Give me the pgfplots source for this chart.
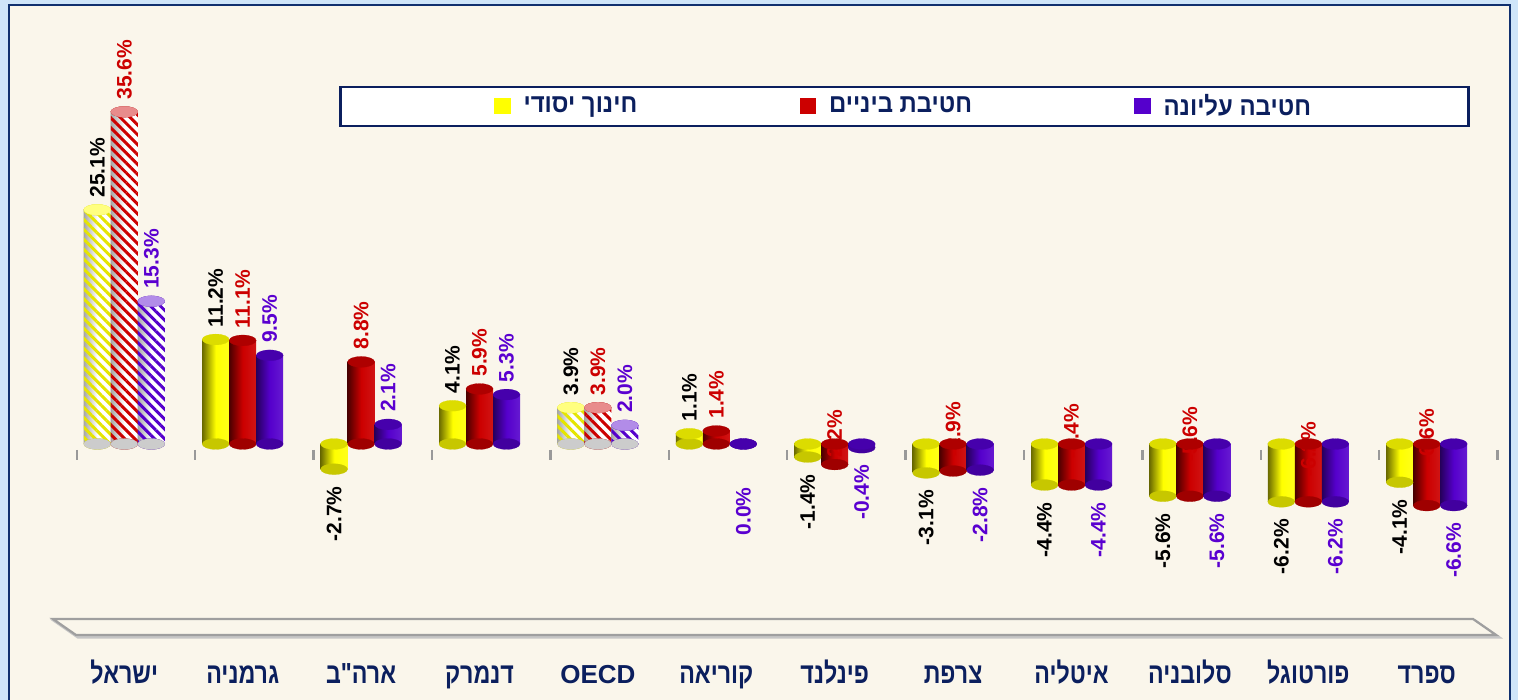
\documentclass[border=0pt]{standalone}
\usepackage{pgfplots}
\pgfplotsset{compat=1.18}
\usepackage{pgfplotstable}
\usetikzlibrary{patterns.meta}
\usepackage{fontspec}
\setmainfont{Liberation Sans}
\newfontfamily\heb[Script=Hebrew, FakeStretch=0.92]{Liberation Sans}
\newfontfamily\hebcat[Script=Hebrew, FakeStretch=0.8]{Liberation Sans}
\TeXXeTstate=1

\definecolor{cream}{HTML}{FAF6EB}
\definecolor{navy}{HTML}{0B1F5E}
\definecolor{framenavy}{HTML}{10306E}
\definecolor{lightblue}{HTML}{CFE5F9}
\definecolor{yel}{HTML}{FFFF00}
\definecolor{yelD}{HTML}{6A6A00}
\definecolor{yelT}{HTML}{DCDC00}
\definecolor{rd}{HTML}{CC0000}
\definecolor{rdD}{HTML}{4A0000}
\definecolor{rdT}{HTML}{AE0000}
\definecolor{pu}{HTML}{5500CC}
\definecolor{puD}{HTML}{26005C}
\definecolor{puT}{HTML}{4600AC}
\definecolor{lblred}{HTML}{CC0000}
\definecolor{lblpu}{HTML}{5A00D0}

% x: 0 Israel,1 Germany,2 USA,3 Denmark,4 OECD,5 Korea,6 Finland,7 France,8 Italy,9 Slovenia,10 Portugal,11 Spain
\pgfplotstableread{
x v top bot
0 25.1 25.1 0
1 11.2 11.2 0
2 -2.7 0 -2.7
3 4.1 4.1 0
4 3.9 3.9 0
5 1.1 1.1 0
6 -1.4 0 -1.4
7 -3.1 0 -3.1
8 -4.4 0 -4.4
9 -5.6 0 -5.6
10 -6.2 0 -6.2
11 -4.1 0 -4.1
}\yeldata
\pgfplotstableread{
x v top bot
0 35.6 35.6 0
1 11.1 11.1 0
2 8.8 8.8 0
3 5.9 5.9 0
4 3.9 3.9 0
5 1.4 1.4 0
6 -2.2 0 -2.2
7 -2.9 0 -2.9
8 -4.4 0 -4.4
9 -5.6 0 -5.6
10 -6.2 0 -6.2
11 -6.6 0 -6.6
}\reddata
\pgfplotstableread{
x lab txt
6 -2.25 -2.2
7 -1.39 -2.9
8 -1.61 -4.4
9 -1.93 -5.6
10 -3.54 -6.2
11 -2.14 -6.6
}\redlab
\pgfplotstableread{
x v top bot
0 15.3 15.3 0
1 9.5 9.5 0
2 2.1 2.1 0
3 5.3 5.3 0
4 2.0 2.0 0
5 0.0 0 0
6 -0.4 0 -0.4
7 -2.8 0 -2.8
8 -4.4 0 -4.4
9 -5.6 0 -5.6
10 -6.2 0 -6.2
11 -6.6 0 -6.6
}\pudata

\pgfplotsset{
  cyl/.style={ybar, bar width=13.5pt, draw=none, forget plot},
  ell/.style 2 args={only marks, mark=*, mark size=6.75pt, forget plot,
     mark options={xshift=#1, yscale=0.4, draw=#2, fill=#2, line width=0.1pt}},
}
\tikzset{
  vlab/.style={font=\bfseries\fontsize{10.5}{12}\selectfont},
  hatch/.style={pattern color=#1, pattern={Lines[angle=-45,distance=3.5pt,line width=1.5pt]}},
}

% one shaded cylinder body per category: #1 table, #2 shift, #3 left, #4 middle, #5 right
\newcommand{\cylseries}[5]{%
  \pgfplotsinvokeforeach{0,...,11}{%
    \addplot[cyl, bar shift=#2, left color=#3, right color=#5, middle color=#4, restrict x to domain=##1:##1] table[x=x,y=v]{#1};
  }%
}
% hatched cylinder body: #1 shift, #2 x, #3 value, #4 stripe colour
\newcommand{\hatchbar}[4]{%
  \addplot[cyl, bar shift=#1, left color=gray!70, right color=white, middle color=white] coordinates {(#2,#3)};
  \addplot[cyl, bar shift=#1, hatch=#4] coordinates {(#2,#3)};
}

\begin{document}
\begin{tikzpicture}
\useasboundingbox (0,0) rectangle (759pt,350pt);
\fill[lightblue] (0,0) rectangle (759pt,350pt);
\fill[cream] (4.3pt,0) rectangle (755pt,347.3pt);
\draw[framenavy, line width=1pt] (4.3pt,0) -- (4.3pt,347.3pt) -- (755pt,347.3pt) -- (755pt,0);
% floor
\draw[gray!45, line width=1.6pt] (27.5pt,39.5pt) -- (737.5pt,39.5pt) -- (749pt,31.5pt) -- (39pt,31.5pt) -- cycle;
\draw[gray!75, line width=1.1pt, fill=cream] (26.5pt,40.5pt) -- (736.5pt,40.5pt) -- (748pt,32.5pt) -- (38pt,32.5pt) -- cycle;

\begin{axis}[
  at={(32.55pt,27.7pt)}, anchor=south west, scale only axis,
  width=710.4pt, height=314.9pt,
  xmin=-0.5, xmax=11.5, ymin=-21.5, ymax=46,
  axis line style={draw=none}, ytick=\empty,
  xtick={0,...,11}, major tick length=0pt,
  xticklabels={{\hebcat\beginR ישראל\endR},{\hebcat\beginR גרמניה\endR},{\hebcat\beginR ארה"ב\endR},{\hebcat\beginR דנמרק\endR},{\fontsize{13}{15}\selectfont OECD},{\hebcat\beginR קוריאה\endR},{\hebcat\beginR פינלנד\endR},{\hebcat\beginR צרפת\endR},{\hebcat\beginR איטליה\endR},{\hebcat\beginR סלובניה\endR},{\hebcat\beginR פורטוגל\endR},{\hebcat\beginR ספרד\endR}},
  xticklabel style={font=\bfseries\fontsize{14.5}{16}\selectfont, text=navy, anchor=base, yshift=-19.2pt},
  clip=false,
  /pgf/number format/assume math mode=true,
  legend columns=3,
  legend style={at={(0.5908,0.8544)}, anchor=center, draw=navy, line width=1.25pt, fill=white,
    inner xsep=76.75pt, inner ysep=1.75pt, font=\heb\bfseries\fontsize{13}{14}\selectfont, text=navy,
    /tikz/every odd column/.append style={column sep=4.5pt},
    /tikz/every even column/.append style={column sep=0pt}},
]
\addlegendimage{legend image code/.code={\fill[yel] (0pt,-3.2pt) rectangle (7pt,3.8pt);}}
\addlegendentry{\makebox[136pt][l]{\beginR חינוך יסודי\endR}}
\addlegendimage{legend image code/.code={\fill[rd] (0pt,-3.2pt) rectangle (7pt,3.8pt);}}
\addlegendentry{\makebox[150.5pt][l]{\beginR חטיבת ביניים\endR}}
\addlegendimage{legend image code/.code={\fill[pu] (0pt,-3.2pt) rectangle (7pt,3.8pt);}}
\addlegendentry{\beginR חטיבה עליונה\endR}

% tick marks
\addplot[only marks, mark=|, mark size=2.6pt, color=gray!80, mark options={line width=1.2pt}, forget plot]
 coordinates {(-0.402,-1.18) (0.598,-1.18) (1.598,-1.18) (2.598,-1.18) (3.598,-1.18) (4.598,-1.18) (5.598,-1.18) (6.598,-1.18) (7.598,-1.18) (8.598,-1.18) (9.598,-1.18) (10.598,-1.18) (11.598,-1.18)};

% ===== yellow =====
\addplot[ell={-13.5pt}{yel!78!black}] table[x=x,y=bot]{\yeldata};
\cylseries{\yeldata}{-13.5pt}{yelD}{yel}{yel!90!white}
\addplot[ell={-13.5pt}{gray!40}] coordinates {(0,0) (4,0)};
\hatchbar{-13.5pt}{0}{25.1}{yel!90!black}
\hatchbar{-13.5pt}{4}{3.9}{yel!90!black}
\addplot[ell={-13.5pt}{yelT}] table[x=x,y=top]{\yeldata};
\addplot[ell={-13.5pt}{yel!50!white}] coordinates {(0,25.1) (4,3.9)};
\addplot[only marks, mark=none, forget plot, restrict y to domain=0.05:100, point meta=y,
  nodes near coords={\pgfmathprintnumber[fixed,fixed zerofill,precision=1]{\pgfplotspointmeta}\%},
  nodes near coords style={xshift=-13.5pt, rotate=90, anchor=west, inner xsep=6pt, inner ysep=0pt, vlab, text=black}] table[x=x,y=v]{\yeldata};
\addplot[only marks, mark=none, forget plot, restrict y to domain=-100:-0.05, point meta=y,
  nodes near coords={\pgfmathprintnumber[fixed,fixed zerofill,precision=1]{\pgfplotspointmeta}\%},
  nodes near coords style={xshift=-13.5pt, rotate=90, anchor=east, inner xsep=8.5pt, inner ysep=0pt, vlab, text=black}] table[x=x,y=v]{\yeldata};

% ===== red =====
\addplot[only marks, mark=none, forget plot, point meta=explicit symbolic,
  nodes near coords={\pgfplotspointmeta\%},
  nodes near coords style={rotate=90, anchor=west, inner sep=0pt, vlab, text=lblred}] table[x=x,y=lab,meta=txt]{\redlab};
\addplot[ell={0pt}{rd!78!black}] table[x=x,y=bot]{\reddata};
\cylseries{\reddata}{0pt}{rdD}{rd}{rd!92!white}
\addplot[ell={0pt}{gray!40}] coordinates {(0,0) (4,0)};
\hatchbar{0pt}{0}{35.6}{rd}
\hatchbar{0pt}{4}{3.9}{rd}
\addplot[ell={0pt}{rdT}] table[x=x,y=top]{\reddata};
\addplot[ell={0pt}{rd!45!white}] coordinates {(0,35.6) (4,3.9)};
\addplot[only marks, mark=none, forget plot, restrict y to domain=0.05:100, point meta=y,
  nodes near coords={\pgfmathprintnumber[fixed,fixed zerofill,precision=1]{\pgfplotspointmeta}\%},
  nodes near coords style={rotate=90, anchor=west, inner xsep=6pt, inner ysep=0pt, vlab, text=lblred}] table[x=x,y=v]{\reddata};

% ===== purple =====
\addplot[ell={13.5pt}{pu!78!black}] table[x=x,y=bot]{\pudata};
\cylseries{\pudata}{13.5pt}{puD}{pu}{pu!90!white}
\addplot[ell={13.5pt}{gray!40}] coordinates {(0,0) (4,0)};
\hatchbar{13.5pt}{0}{15.3}{pu}
\hatchbar{13.5pt}{4}{2.0}{pu}
\addplot[ell={13.5pt}{puT}] table[x=x,y=top]{\pudata};
\addplot[ell={13.5pt}{pu!45!white}] coordinates {(0,15.3) (4,2.0)};
\addplot[only marks, mark=none, forget plot, restrict y to domain=0.05:100, point meta=y,
  nodes near coords={\pgfmathprintnumber[fixed,fixed zerofill,precision=1]{\pgfplotspointmeta}\%},
  nodes near coords style={xshift=13.5pt, rotate=90, anchor=west, inner xsep=6pt, inner ysep=0pt, vlab, text=lblpu}] table[x=x,y=v]{\pudata};
\addplot[only marks, mark=none, forget plot, restrict y to domain=-100:-0.05, point meta=y,
  nodes near coords={\pgfmathprintnumber[fixed,fixed zerofill,precision=1]{\pgfplotspointmeta}\%},
  nodes near coords style={xshift=13.5pt, rotate=90, anchor=east, inner xsep=8.5pt, inner ysep=0pt, vlab, text=lblpu}] table[x=x,y=v]{\pudata};
\addplot[only marks, mark=none, forget plot, point meta=explicit symbolic,
  nodes near coords={\pgfplotspointmeta\%},
  nodes near coords style={xshift=13.5pt, rotate=90, anchor=east, inner xsep=8.5pt, inner ysep=0pt, vlab, text=lblpu}] coordinates {(5,-2.8) [0.0]};
\end{axis}
\end{tikzpicture}
\end{document}
